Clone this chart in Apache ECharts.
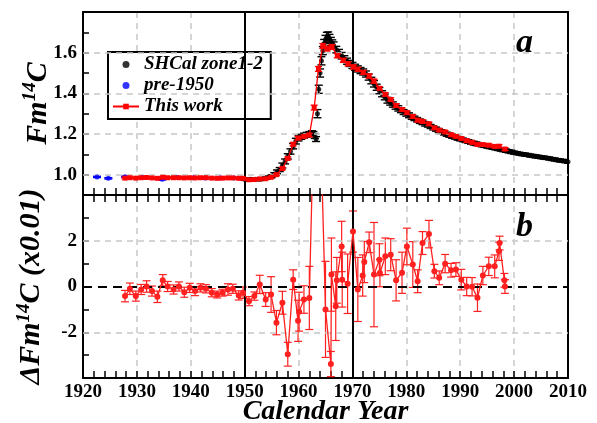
<!DOCTYPE html>
<html><head><meta charset="utf-8">
<script src="https://cdn.jsdelivr.net/npm/echarts@6/dist/echarts.min.js"></script>
<style>html,body{margin:0;padding:0;background:#fff}#c{width:597px;height:423px}</style>
</head><body><div id="c"></div>
<script>
// SHCal zone1-2 : [year, Fm14C, error]
const shcal = [
[1950.0,0.977,0.005],[1950.5,0.976,0.005],[1951.0,0.977,0.005],[1951.5,0.976,0.005],[1952.0,0.977,0.005],[1952.5,0.977,0.005],
[1953.0,0.978,0.005],[1953.5,0.980,0.005],[1954.0,0.983,0.006],[1954.5,0.987,0.006],[1955.0,0.992,0.007],[1955.5,1.002,0.008],
[1956.0,1.014,0.009],[1956.5,1.025,0.010],[1957.0,1.045,0.012],[1957.5,1.065,0.012],[1958.0,1.090,0.013],[1958.5,1.114,0.013],
[1959.0,1.140,0.013],[1959.5,1.165,0.014],[1960.0,1.180,0.014],[1960.5,1.186,0.012],[1961.0,1.192,0.012],[1961.5,1.196,0.012],
[1962.0,1.200,0.012],[1962.5,1.204,0.012],[1962.75,1.200,0.012],[1963.0,1.190,0.012],[1963.25,1.175,0.012],[1963.5,1.300,0.020],
[1963.75,1.420,0.020],[1964.0,1.500,0.020],[1964.25,1.560,0.020],[1964.5,1.610,0.020],[1964.75,1.645,0.020],[1965.0,1.665,0.020],
[1965.25,1.675,0.025],[1965.5,1.680,0.022],[1965.75,1.670,0.020],[1966.0,1.655,0.020],[1966.25,1.645,0.018],[1966.5,1.635,0.018],
[1967.0,1.615,0.016],[1967.5,1.600,0.016],[1968.0,1.585,0.016],[1968.5,1.570,0.015],[1969.0,1.558,0.015],[1969.5,1.547,0.015],
[1970.0,1.537,0.015],[1970.5,1.528,0.015],[1971.0,1.520,0.015],[1971.5,1.512,0.015],[1972.0,1.505,0.015],[1972.5,1.495,0.015],
[1973.0,1.480,0.015],[1973.5,1.463,0.016],[1974.0,1.447,0.016],[1974.5,1.430,0.015],[1975.0,1.413,0.015],[1975.5,1.398,0.015],
[1976.0,1.382,0.014],[1976.5,1.366,0.014],[1977.0,1.355,0.013],[1977.5,1.345,0.013],[1978.0,1.335,0.013],[1978.5,1.326,0.013],
[1979.0,1.317,0.012],[1979.5,1.308,0.012],[1980.0,1.300,0.012],[1980.5,1.292,0.012],[1981.0,1.284,0.012],[1981.5,1.277,0.011],
[1982.0,1.270,0.011],[1982.5,1.263,0.011],[1983.0,1.257,0.011],[1983.5,1.250,0.011],[1984.0,1.244,0.010],[1984.5,1.237,0.010],
[1985.0,1.230,0.010],[1985.5,1.224,0.010],[1986.0,1.217,0.010],[1986.5,1.211,0.010],[1987.0,1.205,0.010],[1987.5,1.199,0.010],
[1988.0,1.194,0.010],[1988.5,1.189,0.010],[1989.0,1.184,0.009],[1989.5,1.179,0.009],[1990.0,1.175,0.009],[1990.5,1.171,0.009],
[1991.0,1.167,0.009],[1991.5,1.163,0.009],[1992.0,1.159,0.009],[1992.5,1.155,0.009],[1993.0,1.152,0.009],[1993.5,1.148,0.008],
[1994.0,1.145,0.008],[1994.5,1.142,0.008],[1995.0,1.139,0.008],[1995.5,1.136,0.008],[1996.0,1.133,0.008],[1996.5,1.130,0.008],
[1997.0,1.127,0.008],[1997.5,1.124,0.008],[1998.0,1.121,0.008],[1998.5,1.118,0.008],[1999.0,1.115,0.008],[1999.5,1.112,0.008],
[2000.0,1.108,0.007],[2000.5,1.106,0.007],[2001.0,1.103,0.007],[2001.5,1.101,0.007],[2002.0,1.099,0.007],[2002.5,1.097,0.007],
[2003.0,1.094,0.007],[2003.5,1.092,0.007],[2004.0,1.090,0.007],[2004.5,1.088,0.007],[2005.0,1.086,0.007],[2005.5,1.084,0.007],
[2006.0,1.082,0.007],[2006.5,1.080,0.007],[2007.0,1.077,0.007],[2007.5,1.075,0.007],[2008.0,1.072,0.007],[2008.5,1.070,0.007],
[2009.0,1.068,0.007],[2009.5,1.066,0.007],[2010.0,1.063,0.007]
];
// pre-1950 : [year, Fm14C, error]
const pre1950 = [
[1922.6,0.989,0.003],[1924.7,0.982,0.003],[1927.8,0.990,0.003],[1931.0,0.986,0.003],[1934.7,0.977,0.003],
[1937.5,0.986,0.003],[1940.5,0.985,0.003],[1942.7,0.983,0.003],[1945.5,0.984,0.003],[1948.0,0.983,0.003]
];
// This work : [year, Fm14C, error]
const thisWork = [
[1927.8,0.983,0.004],[1928.7,0.985,0.004],[1929.8,0.983,0.004],[1930.8,0.985,0.004],[1931.8,0.986,0.004],[1932.8,0.984,0.004],
[1933.8,0.982,0.004],[1934.8,0.987,0.004],[1935.7,0.985,0.004],[1936.8,0.985,0.004],[1937.8,0.985,0.004],[1938.8,0.984,0.004],
[1939.8,0.985,0.004],[1940.8,0.984,0.004],[1941.8,0.985,0.004],[1942.8,0.985,0.004],[1943.9,0.983,0.004],[1944.9,0.982,0.004],
[1945.9,0.983,0.004],[1946.9,0.984,0.004],[1947.8,0.984,0.004],[1948.9,0.982,0.004],[1949.7,0.982,0.004],
[1950.8,0.975,0.004],[1951.8,0.976,0.004],[1952.8,0.979,0.004],[1953.9,0.980,0.004],[1954.9,0.987,0.005],[1955.9,1.000,0.005],
[1957.0,1.030,0.006],[1958.0,1.080,0.007],[1959.0,1.150,0.008],[1959.9,1.180,0.008],[1961.0,1.188,0.008],[1962.0,1.195,0.008],
[1962.9,1.330,0.012],[1963.7,1.520,0.012],[1964.5,1.633,0.012],[1965.3,1.620,0.012],[1966.2,1.628,0.012],[1967.2,1.585,0.010],
[1968.3,1.562,0.010],[1969.2,1.545,0.010],[1970.2,1.530,0.010],[1971.0,1.518,0.010],[1972.0,1.503,0.010],[1973.1,1.485,0.010],
[1974.0,1.460,0.010],[1975.0,1.425,0.008],[1976.1,1.395,0.008],[1977.1,1.370,0.008],[1978.1,1.340,0.008],[1979.2,1.320,0.008],
[1980.1,1.305,0.008],[1981.2,1.286,0.008],[1982.1,1.268,0.008],[1983.0,1.262,0.008],[1984.2,1.250,0.008],[1985.2,1.230,0.007],
[1986.1,1.219,0.007],[1987.2,1.210,0.007],[1988.3,1.196,0.007],[1989.2,1.188,0.007],[1990.2,1.178,0.007],[1991.2,1.167,0.007],
[1992.2,1.159,0.007],[1993.2,1.149,0.007],[1994.2,1.148,0.007],[1995.3,1.145,0.007],[1996.4,1.139,0.007],[1997.2,1.140,0.007],
[1998.3,1.126,0.007]
];
// Delta Fm14C (x0.01) : [year, value, error]
const delta = [
[1927.8,-0.42,0.25],[1928.7,-0.10,0.25],[1929.8,-0.42,0.22],[1930.8,-0.13,0.22],[1931.8,0.00,0.25],[1932.8,-0.20,0.22],
[1933.8,-0.45,0.25],[1934.8,0.27,0.25],[1935.7,0.00,0.22],[1936.8,-0.13,0.20],[1937.8,0.00,0.20],[1938.8,-0.25,0.22],
[1939.8,-0.06,0.20],[1940.8,-0.20,0.20],[1941.8,-0.06,0.18],[1942.8,-0.10,0.18],[1943.9,-0.27,0.18],[1944.9,-0.35,0.15],
[1945.9,-0.27,0.15],[1946.9,-0.13,0.25],[1947.8,-0.10,0.20],[1948.9,-0.39,0.20],[1949.7,-0.27,0.25],
[1950.8,-0.64,0.20],[1951.8,-0.42,0.18],[1952.8,0.09,0.40],[1953.9,-0.57,0.30],[1954.9,-0.35,0.78],[1955.9,-1.58,0.53],
[1957.0,-0.71,0.50],[1958.0,-2.96,0.52],[1959.0,0.30,0.43],[1959.9,-1.50,0.90],[1960.1,-1.10,0.85],[1961.0,-0.57,0.60],
[1962.0,-0.50,1.38],[1963.4,13.0,1.50],[1965.0,-1.00,2.10],[1966.0,-3.39,0.55],[1966.1,0.52,1.60],[1966.9,-0.86,1.50],
[1967.1,0.27,1.00],[1968.0,1.75,1.10],[1968.1,0.30,1.20],[1969.1,0.12,1.30],[1970.1,2.40,0.90],[1971.0,-0.13,1.40],
[1971.9,0.48,0.90],[1972.2,1.07,0.90],[1973.1,1.93,0.45],[1974.0,0.52,2.28],[1975.0,1.17,0.70],[1975.1,0.59,0.60],
[1976.1,1.32,0.80],[1977.1,1.39,0.70],[1978.1,0.27,0.90],[1979.2,0.60,0.90],[1980.1,1.75,0.80],[1981.2,0.96,1.00],
[1982.1,0.23,0.50],[1983.0,1.90,0.50],[1984.2,2.29,0.60],[1985.2,0.67,0.30],[1986.1,0.38,0.30],[1987.2,1.00,0.40],
[1988.3,0.71,0.30],[1989.2,0.74,0.30],[1990.2,0.30,0.45],[1991.2,0.00,0.40],[1992.2,-0.01,0.40],[1993.2,-0.49,0.60],
[1994.2,0.48,0.40],[1995.3,0.88,0.40],[1996.4,0.88,0.50],[1997.2,1.54,0.40],[1997.3,1.90,0.30],[1998.2,0.27,0.30],
[1998.3,0.00,0.30]
];
const topLabels = [1.0, 1.2, 1.4, 1.6];
const botLabels = [-2, 0, 2];
const solidYears = [1950, 1970];

const FONT = "'Liberation Serif','DejaVu Serif',serif";
const chart = echarts.init(document.getElementById('c'), null, {renderer: 'canvas'});

function errBar(color, capW, lw) {
  return function (params, api) {
    const x = api.value(0), y = api.value(1), e = api.value(2);
    const lo = api.coord([x, y - e]), hi = api.coord([x, y + e]);
    const h = capW / 2;
    const st = {stroke: color, lineWidth: lw};
    return {type: 'group', children: [
      {type: 'line', shape: {x1: lo[0], y1: lo[1], x2: hi[0], y2: hi[1]}, style: st},
      {type: 'line', shape: {x1: lo[0] - h, y1: lo[1], x2: lo[0] + h, y2: lo[1]}, style: st},
      {type: 'line', shape: {x1: hi[0] - h, y1: hi[1], x2: hi[0] + h, y2: hi[1]}, style: st}
    ]};
  };
}
const grayDash = {color: '#c8c8c8', type: [6, 5], width: 1.5};
const solidBlack = {color: '#000', type: 'solid', width: 2};
function gridLinesTop() {
  return topLabels.map(v => ({yAxis: v, lineStyle: grayDash}))
    .concat(solidYears.map(v => ({xAxis: v, lineStyle: solidBlack})));
}
function gridLinesBot() {
  return botLabels.filter(v => v !== 0).map(v => ({yAxis: v, lineStyle: grayDash}))
    .concat(solidYears.map(v => ({xAxis: v, lineStyle: solidBlack})));
}
const mlBase = {symbol: 'none', silent: true, label: {show: false}, animation: false};

const boldLabel = {fontFamily: FONT, fontWeight: 'bold', fontSize: 19, color: '#000'};
const frame = {show: true, onZero: false, lineStyle: {color: '#000', width: 2}};
function xAxisDef(grid, pos, opts) {
  return Object.assign({
    type: 'value', gridIndex: grid, position: pos, min: 1920, max: 2010, interval: 10,
    axisLine: frame, axisLabel: {show: false}, axisTick: {show: false},
    minorTick: {show: false}, splitLine: {show: false}
  }, opts);
}
const ticksIn = {show: true, inside: true, length: 7, lineStyle: {color: '#000', width: 1.5}};
const minorIn = {show: true, splitNumber: 5, length: 7, lineStyle: {color: '#000', width: 1.5}};

const option = {
  animation: false,
  backgroundColor: '#fff',
  grid: [
    {left: 83, right: 29, top: 12, height: 183, containLabel: false, outerBoundsMode: 'none'},
    {left: 83, right: 29, top: 195, height: 183, containLabel: false, outerBoundsMode: 'none'}
  ],
  xAxis: [
    xAxisDef(0, 'bottom', {axisTick: ticksIn, minorTick: minorIn, splitLine: {show: true, lineStyle: grayDash}}),
    xAxisDef(0, 'top', {}),
    xAxisDef(1, 'bottom', {
      axisTick: ticksIn, minorTick: minorIn, splitLine: {show: true, lineStyle: grayDash},
      axisLabel: Object.assign({show: true, margin: 5, formatter: v => String(v)}, boldLabel),
      name: 'Calendar Year', nameLocation: 'middle', nameGap: 20, nameMoveOverlap: false,
      nameTextStyle: {fontFamily: FONT, fontWeight: 'bold', fontStyle: 'italic', fontSize: 28, color: '#000'}
    }),
    xAxisDef(1, 'top', {axisTick: ticksIn, minorTick: minorIn})
  ],
  yAxis: [
    {
      type: 'value', gridIndex: 0, position: 'left', min: 0.9, max: 1.8, interval: 0.1,
      axisLine: frame, axisTick: {show: true, inside: true, length: 6, lineStyle: {color: '#000', width: 1.5}},
      splitLine: {show: false},
      axisLabel: Object.assign({margin: 6, formatter: v => topLabels.some(t => Math.abs(t - v) < 1e-6) ? v.toFixed(1) : ''}, boldLabel),
      name: '{a|Fm}{s|14}{a|C}', nameLocation: 'middle', nameRotate: 90, nameGap: 28, nameMoveOverlap: false,
      nameTextStyle: {rich: {
        a: {fontFamily: FONT, fontWeight: 'bold', fontStyle: 'italic', fontSize: 30, color: '#000'},
        s: {fontFamily: FONT, fontWeight: 'bold', fontStyle: 'italic', fontSize: 19, color: '#000', padding: [0, 0, 15, 0]}
      }}
    },
    {type: 'value', gridIndex: 0, position: 'right', min: 0.9, max: 1.8, axisLine: frame,
     axisTick: {show: false}, axisLabel: {show: false}, splitLine: {show: false}},
    {
      type: 'value', gridIndex: 1, position: 'left', min: -4, max: 4, interval: 1,
      axisLine: frame, axisTick: {show: true, inside: true, length: 6, lineStyle: {color: '#000', width: 1.5}},
      splitLine: {show: false},
      axisLabel: Object.assign({margin: 6, formatter: v => botLabels.indexOf(v) >= 0 ? String(v) : ''}, boldLabel),
      name: '{a|ΔFm}{s|14}{a|C (x0.01)}', nameLocation: 'middle', nameRotate: 90, nameGap: 35, nameMoveOverlap: false,
      nameTextStyle: {rich: {
        a: {fontFamily: FONT, fontWeight: 'bold', fontStyle: 'italic', fontSize: 30, color: '#000'},
        s: {fontFamily: FONT, fontWeight: 'bold', fontStyle: 'italic', fontSize: 19, color: '#000', padding: [0, 0, 14, 0]}
      }}
    },
    {type: 'value', gridIndex: 1, position: 'right', min: -4, max: 4, axisLine: frame,
     axisTick: {show: false}, axisLabel: {show: false}, splitLine: {show: false}}
  ],
  legend: {
    left: 108, top: 52, orient: 'vertical', itemWidth: 26, itemHeight: 7, itemGap: 2,
    padding: [3, 8, 3, 4], borderColor: '#000', borderWidth: 2, backgroundColor: '#fff',
    textStyle: {fontFamily: FONT, fontWeight: 'bold', fontStyle: 'italic', fontSize: 19, lineHeight: 18, color: '#000'},
    data: [
      {name: 'SHCal zone1-2', icon: 'circle'},
      {name: 'pre-1950', icon: 'circle'},
      {name: 'This work'}
    ]
  },
  graphic: [
    {type: 'text', left: 516, top: 26, style: {text: 'a', font: 'italic bold 34px ' + FONT, fill: '#000'}},
    {type: 'text', left: 516, top: 210, style: {text: 'b', font: 'italic bold 34px ' + FONT, fill: '#000'}}
  ],
  series: [
    {type: 'custom', name: 'shcalErr', xAxisIndex: 0, yAxisIndex: 0, data: shcal, encode: {x: 0, y: 1},
     renderItem: errBar('#000', 8, 1.4), clip: true, silent: true, z: 2,
     markLine: Object.assign({data: gridLinesTop()}, mlBase)},
    {type: 'scatter', name: 'SHCal zone1-2', xAxisIndex: 0, yAxisIndex: 0, data: shcal, encode: {x: 0, y: 1},
     symbol: 'circle', symbolSize: 5, itemStyle: {color: '#000'}, z: 3},
    {type: 'custom', name: 'preErr', xAxisIndex: 0, yAxisIndex: 0, data: pre1950, encode: {x: 0, y: 1},
     renderItem: errBar('#0000ff', 8, 1.5), clip: true, silent: true, z: 4},
    {type: 'scatter', name: 'pre-1950', xAxisIndex: 0, yAxisIndex: 0, data: pre1950, encode: {x: 0, y: 1},
     symbol: 'circle', symbolSize: 5, itemStyle: {color: '#0000ff'}, z: 5},
    {type: 'custom', name: 'workErr', xAxisIndex: 0, yAxisIndex: 0, data: thisWork, encode: {x: 0, y: 1},
     renderItem: errBar('#ff0000', 7, 1.3), clip: true, silent: true, z: 6},
    {type: 'line', name: 'This work', xAxisIndex: 0, yAxisIndex: 0, data: thisWork, encode: {x: 0, y: 1},
     symbol: 'rect', symbolSize: 5, showAllSymbol: true, lineStyle: {color: '#ff0000', width: 1.3},
     itemStyle: {color: '#ff0000'}, z: 7},
    {type: 'custom', name: 'deltaErr', xAxisIndex: 2, yAxisIndex: 2, data: delta, encode: {x: 0, y: 1},
     renderItem: errBar('#ff2020', 8, 1.2), clip: true, silent: true, z: 2,
     markLine: Object.assign({data: gridLinesBot()}, mlBase)},
    {type: 'line', name: 'delta', xAxisIndex: 2, yAxisIndex: 2, data: delta, encode: {x: 0, y: 1},
     symbol: 'circle', symbolSize: 6, showAllSymbol: true, clip: true,
     lineStyle: {color: '#ff2020', width: 1.3}, itemStyle: {color: '#ff2020'}, z: 5,
     markLine: Object.assign({data: [{yAxis: 0, lineStyle: {color: '#000', type: [9, 6], width: 2}}]}, mlBase)}
  ]
};
chart.setOption(option);
</script>
</body></html>
